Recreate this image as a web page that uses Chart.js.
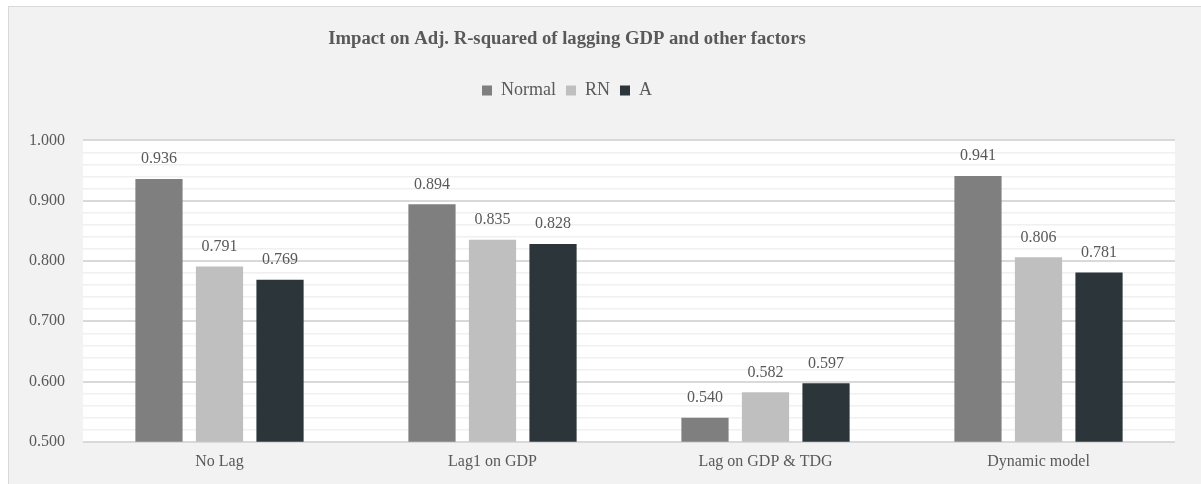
<!DOCTYPE html>
<html>
<head>
<meta charset="utf-8">
<script src="https://cdn.jsdelivr.net/npm/chart.js@4.4.1/dist/chart.umd.min.js"></script>
<style>
  html, body { margin: 0; padding: 0; background: #ffffff; overflow: hidden; }
  #frame { position: absolute; left: 8px; top: 6px; width: 1200px; height: 490px;
           background: #f2f2f2; border: 1px solid #d9d9d9; }
  #wrap { position: absolute; left: -41px; top: 0; width: 1242px; height: 484px; }
</style>
</head>
<body>
<div id="frame"></div>
<div id="wrap"><canvas id="chart"></canvas></div>
<script>
const categories = ['No Lag', 'Lag1 on GDP', 'Lag on GDP & TDG', 'Dynamic model'];
const normalVals = [0.936, 0.894, 0.540, 0.941];
const rnVals = [0.791, 0.835, 0.582, 0.806];
const aVals = [0.769, 0.828, 0.597, 0.781];

const isMajor = v => Math.abs(v * 10 - Math.round(v * 10)) < 1e-6;

// extra room under the legend
const legendGap = {
    id: 'legendGap',
    beforeInit(chart) {
        const fit = chart.legend.fit;
        chart.legend.fit = function () {
            fit.call(this);
            this.height += 31;
        };
    }
};

// white plot area
const plotBg = {
    id: 'plotBg',
    beforeDraw(chart) {
        const { ctx, chartArea: a } = chart;
        ctx.save();
        ctx.fillStyle = '#ffffff';
        ctx.fillRect(a.left, a.top, a.right - a.left, a.bottom - a.top);
        ctx.restore();
    }
};

// value labels above bars
const valueLabels = {
    id: 'valueLabels',
    afterDatasetsDraw(chart) {
        const ctx = chart.ctx;
        ctx.save();
        ctx.font = '16px "Liberation Serif", "Times New Roman", serif';
        ctx.fillStyle = '#595959';
        ctx.textAlign = 'center';
        ctx.textBaseline = 'middle';
        chart.data.datasets.forEach((ds, i) => {
            chart.getDatasetMeta(i).data.forEach((bar, j) => {
                ctx.fillText(ds.data[j].toFixed(3), bar.x, bar.y - 20);
            });
        });
        ctx.restore();
    }
};

new Chart(document.getElementById('chart'), {
    type: 'bar',
    data: {
        labels: categories,
        datasets: [
            { label: 'Normal', data: normalVals, backgroundColor: '#7f7f7f' },
            { label: 'RN', data: rnVals, backgroundColor: '#bfbfbf' },
            { label: 'A', data: aVals, backgroundColor: '#2c3539' }
        ]
    },
    options: {
        responsive: true,
        maintainAspectRatio: false,
        animation: false,
        categoryPercentage: 0.665,
        barPercentage: 0.78,
        layout: { padding: { top: 20, right: 26, bottom: 11, left: 0 } },
        plugins: {
            title: {
                display: true,
                text: 'Impact on Adj. R-squared of lagging GDP and other factors',
                color: '#595959',
                font: { family: '"Liberation Serif", serif', size: 18.67, weight: 'bold' },
                padding: { top: 8, bottom: 21 }
            },
            legend: {
                position: 'top',
                labels: {
                    color: '#595959',
                    font: { family: '"Liberation Serif", serif', size: 18 },
                    boxWidth: 10,
                    boxHeight: 10,
                    padding: 10
                }
            },
            tooltip: { enabled: false }
        },
        scales: {
            x: {
                grid: { display: false },
                border: { display: false },
                ticks: {
                    color: '#595959',
                    padding: 2,
                    font: { family: '"Liberation Serif", serif', size: 16 }
                }
            },
            y: {
                min: 0.5,
                max: 1.0,
                afterFit(scale) { scale.width = 124; },
                border: { display: false },
                grid: {
                    drawTicks: false,
                    color: c => isMajor(c.tick.value) ? '#d9d9d9' : '#f0f0f0',
                    lineWidth: c => isMajor(c.tick.value) ? 2 : 1.5
                },
                ticks: {
                    stepSize: 0.02,
                    autoSkip: false,
                    padding: 18,
                    color: '#595959',
                    font: { family: '"Liberation Serif", serif', size: 16 },
                    callback: v => isMajor(v) ? v.toFixed(3) : ''
                }
            }
        }
    },
    plugins: [legendGap, plotBg, valueLabels]
});
</script>
</body>
</html>
